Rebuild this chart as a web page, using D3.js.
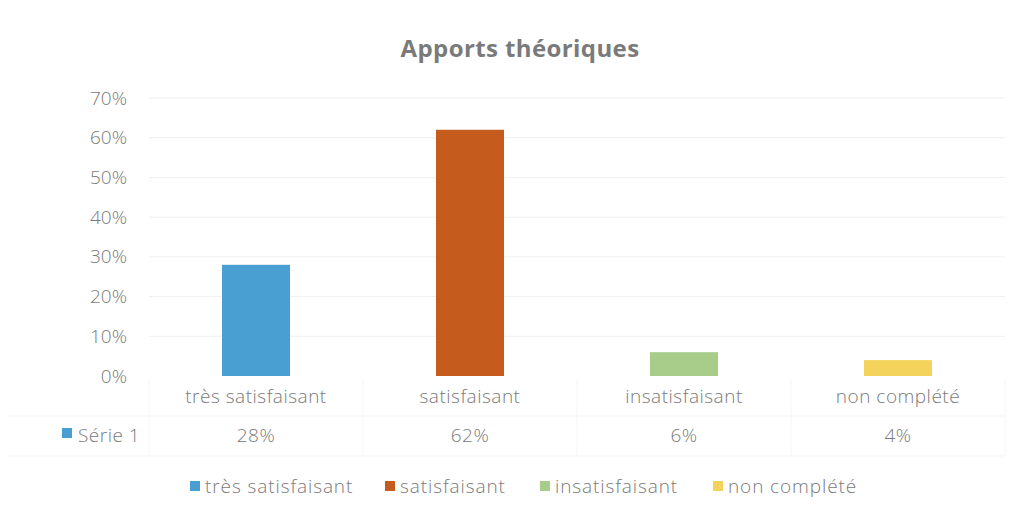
<!DOCTYPE html>
<html>
<head>
<meta charset="utf-8">
<script src="https://cdn.jsdelivr.net/npm/d3@7"></script>
<style>
  body { margin: 0; background: #fff; }
  svg { display: block; font-family: "Open Sans", Lato, sans-serif; font-weight: 300; }
</style>
</head>
<body>
<svg id="chart" width="1018" height="515"></svg>
<script>
// Data
const categories = ['très satisfaisant', 'satisfaisant', 'insatisfaisant', 'non complété'];
const values = [0.28, 0.62, 0.06, 0.04];
const colors = ['#4a9fd2', '#c55c1e', '#a8cd8b', '#f3d35c'];
const yTicks = [0, 0.1, 0.2, 0.3, 0.4, 0.5, 0.6, 0.7];
const seriesName = 'Série 1';
const title = 'Apports théoriques';

const svg = d3.select('#chart');
const TEXT = '#7a7a7a';
const FS = 19;
const LS = 0.5;

// Layout
const plot = { left: 149, right: 1005, top: 98, bottom: 376 };

const x = d3.scaleBand().domain(categories).range([plot.left, plot.right]).paddingInner(0).paddingOuter(0);
const y = d3.scaleLinear().domain([0, 0.7]).range([plot.bottom, plot.top]);

// Title
svg.append('text')
  .attr('x', 520).attr('y', 57)
  .attr('text-anchor', 'middle')
  .attr('font-size', 24).attr('font-weight', 'bold')
  .attr('letter-spacing', 0.4)
  .attr('fill', TEXT)
  .text(title);

// Gridlines (very faint, as in the scan)
svg.append('g')
  .selectAll('line')
  .data(yTicks.slice(1))
  .join('line')
    .attr('x1', plot.left).attr('x2', plot.right)
    .attr('y1', d => y(d)).attr('y2', d => y(d))
    .attr('stroke', '#f0f0f0').attr('stroke-width', 1);

// Y axis
const yAxis = d3.axisLeft(y).tickValues(yTicks).tickFormat(d3.format('.0%')).tickSize(0).tickPadding(0);
const gy = svg.append('g').attr('transform', `translate(${plot.left - 22},0)`).call(yAxis);
gy.select('.domain').remove();
gy.selectAll('text')
  .attr('font-size', FS).attr('fill', TEXT)
  .attr('font-family', '"Open Sans", sans-serif').attr('font-weight', 300);

// Bars
const barW = 68;
svg.append('g')
  .selectAll('rect')
  .data(values)
  .join('rect')
    .attr('x', (d, i) => x(categories[i]) + x.bandwidth() / 2 - barW / 2)
    .attr('width', barW)
    .attr('y', d => y(d))
    .attr('height', d => y(0) - y(d))
    .attr('fill', (d, i) => colors[i]);

// Data table borders (faint)
const tableTop = plot.bottom + 3, rowMid = plot.bottom + 40, tableBottom = plot.bottom + 80;
const tb = svg.append('g').attr('stroke', '#f5f5f5').attr('stroke-width', 1);
tb.append('line').attr('x1', 8).attr('x2', plot.right).attr('y1', rowMid).attr('y2', rowMid);
tb.append('line').attr('x1', 8).attr('x2', plot.right).attr('y1', tableBottom).attr('y2', tableBottom);
tb.selectAll('line.v')
  .data(categories.concat(['end']))
  .join('line')
    .attr('class', 'v')
    .attr('x1', (d, i) => plot.left + i * x.bandwidth())
    .attr('x2', (d, i) => plot.left + i * x.bandwidth())
    .attr('y1', tableTop).attr('y2', tableBottom);

// Category labels
svg.append('g')
  .selectAll('text')
  .data(categories)
  .join('text')
    .attr('x', d => x(d) + x.bandwidth() / 2)
    .attr('y', plot.bottom + 27)
    .attr('text-anchor', 'middle')
    .attr('font-size', FS).attr('fill', TEXT).attr('letter-spacing', LS)
    .text(d => d);

// Series row
const fmt = d3.format('.0%');
svg.append('g')
  .selectAll('text')
  .data(values)
  .join('text')
    .attr('x', (d, i) => x(categories[i]) + x.bandwidth() / 2)
    .attr('y', plot.bottom + 66)
    .attr('text-anchor', 'middle')
    .attr('font-size', FS).attr('fill', TEXT).attr('letter-spacing', LS)
    .text(d => fmt(d));

svg.append('rect')
  .attr('x', 62).attr('y', plot.bottom + 52).attr('width', 10).attr('height', 10)
  .attr('fill', colors[0]);
svg.append('text')
  .attr('x', 78).attr('y', plot.bottom + 66)
  .attr('font-size', FS).attr('fill', TEXT).attr('letter-spacing', LS)
  .text(seriesName);

// Legend
const legendX = [190, 385, 540, 713];
const lg = svg.append('g')
  .selectAll('g')
  .data(categories)
  .join('g')
    .attr('transform', (d, i) => `translate(${legendX[i]},486)`);
lg.append('rect').attr('x', 0).attr('y', -5).attr('width', 10).attr('height', 10)
  .attr('fill', (d, i) => colors[i]);
lg.append('text').attr('x', 15).attr('y', 7)
  .attr('font-size', FS).attr('fill', TEXT).attr('letter-spacing', 0.9)
  .text(d => d);
</script>
</body>
</html>
